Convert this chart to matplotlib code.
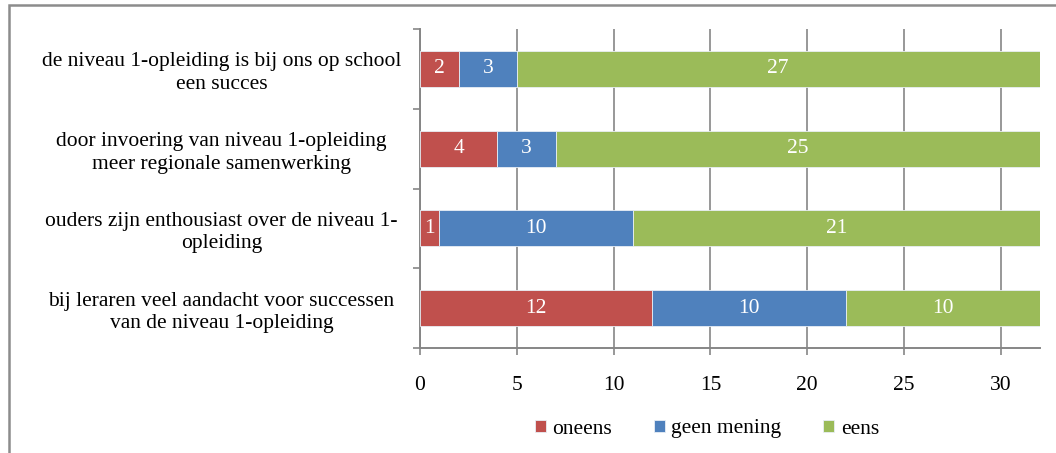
import numpy as np
import matplotlib
matplotlib.use('Agg')
from matplotlib import pyplot as plt
from matplotlib.patches import Rectangle

# categories bottom -> top
categories = ['bij leraren veel aandacht voor successen\nvan de niveau 1-opleiding',
              'ouders zijn enthousiast over de niveau 1-\nopleiding',
              'door invoering van niveau 1-opleiding\nmeer regionale samenwerking',
              'de niveau 1-opleiding is bij ons op school\neen succes']
oneens = [12, 1, 4, 2]
geen_mening = [10, 10, 3, 3]
eens = [10, 21, 25, 27]
series_names = ['oneens', 'geen mening', 'eens']
colors = ['#C0504D', '#4F81BD', '#9BBB59']
xticks = [0, 5, 10, 15, 20, 25, 30]

plt.rcParams['font.family'] = ['Liberation Serif', 'DejaVu Serif']
fs = 15.5

fig = plt.figure(figsize=(10.56, 4.53), dpi=100)
ax = fig.add_axes([420 / 1056, 1 - 348 / 453, (1039.5 - 420) / 1056, (348 - 29) / 453])

# chart border (only top and left visible in the reference)
fig.patches.append(Rectangle((9 / 1056, -0.1), 1.2, 1 - 5 / 453 + 0.1, transform=fig.transFigure,
                             fill=False, edgecolor='#8c8c8c', linewidth=1.8, zorder=0))

y = np.arange(len(categories))
left = np.zeros(len(categories))
for vals, name, col in zip([oneens, geen_mening, eens], series_names, colors):
    vals = np.array(vals, dtype=float)
    bars = ax.barh(y, vals, left=left, height=0.45, color=col, label=name,
                   edgecolor='#e8eef5', linewidth=0.6, zorder=3)
    for b, v in zip(bars, vals):
        ax.text(b.get_x() + b.get_width() / 2, b.get_y() + b.get_height() / 2, '%d' % v,
                ha='center', va='center', color='white', fontsize=fs, zorder=4)
    left += vals

ax.set_xlim(0, 32)
ax.set_ylim(-0.5, len(categories) - 0.5)
ax.set_xticks(xticks)
ax.set_xticklabels([str(t) for t in xticks], fontsize=fs)
ax.tick_params(axis='x', direction='out', length=5, color='#868686', width=1.2, pad=15)
ax.xaxis.grid(True, color='#868686', linewidth=1.2, zorder=0)
ax.set_axisbelow(True)

# category labels centred between boundary ticks
ax.set_yticks(np.arange(len(categories) + 1) - 0.5)
ax.set_yticklabels([])
ax.set_yticks(y, minor=True)
ax.set_yticklabels(categories, minor=True, fontsize=fs, ha='center', multialignment='center',
                   linespacing=1.25)
ax.tick_params(axis='y', which='minor', length=0, pad=143)
ax.tick_params(axis='y', which='major', direction='out', length=5, color='#868686', width=1.2)

for s in ['top', 'right']:
    ax.spines[s].set_visible(False)
for s in ['left', 'bottom']:
    ax.spines[s].set_color('#868686')
    ax.spines[s].set_linewidth(1.4)

handles, labels = ax.get_legend_handles_labels()
fig.legend(handles, labels, loc='center', bbox_to_anchor=(707 / 1056, 1 - 429 / 453), ncol=3,
           frameon=False, fontsize=fs, handlelength=0.5, handleheight=0.5, handletextpad=0.3,
           columnspacing=1.95)

fig.savefig('out.png', dpi=100)
